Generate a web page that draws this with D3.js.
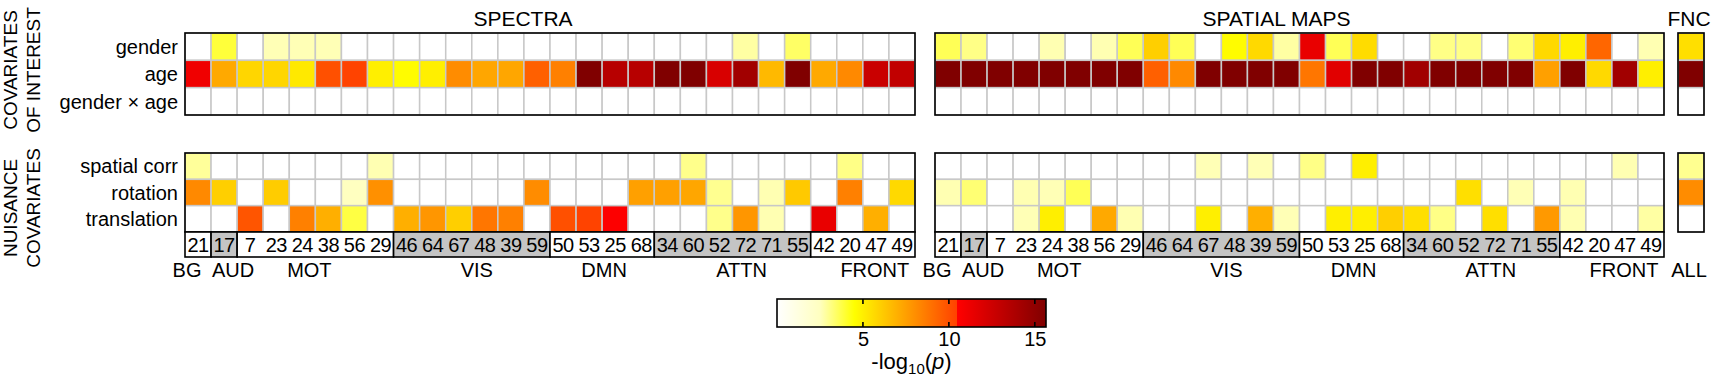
<!DOCTYPE html>
<html>
<head>
<meta charset="utf-8">
<script src="https://cdn.jsdelivr.net/npm/d3@7"></script>
<style>
body { margin: 0; background: #fff; }
text { font-family: "Liberation Sans", Arial, sans-serif; fill: #000; }
</style>
</head>
<body>
<div id="chart"></div>
<script>
const interestRows = ["gender", "age", "gender \u00d7 age"];
const nuisanceRows = ["spatial corr", "rotation", "translation"];
const components = [21, 17, 7, 23, 24, 38, 56, 29, 46, 64, 67, 48, 39, 59, 50, 53, 25, 68, 34, 60, 52, 72, 71, 55, 42, 20, 47, 49];
const groups = ["BG", "AUD", "MOT", "VIS", "DMN", "ATTN", "FRONT"];
const groupSizes = [1, 1, 6, 6, 4, 6, 4];
const cbarTicks = [5, 10, 15];

// -log10(p) per component, 0 = not significant, 16 = beyond the colour scale
const spectraGender = [0, 3.9, 0, 2.6, 2.6, 2.6, 0, 0, 0, 0, 0, 0, 0, 0, 0, 0, 0, 0, 0, 0, 0, 2.8, 0, 3.45, 0, 0, 0, 0];
const spectraAge = [11.1, 7.2, 5.8, 5.8, 5.2, 10.0, 10.4, 5.0, 4.6, 5.0, 8.1, 7.3, 7.3, 9.5, 8.5, 16, 13.4, 13.4, 16, 16, 12.1, 14.3, 6.7, 16, 7.2, 8.2, 12.7, 13.0];
const spectraGxA = [0, 0, 0, 0, 0, 0, 0, 0, 0, 0, 0, 0, 0, 0, 0, 0, 0, 0, 0, 0, 0, 0, 0, 0, 0, 0, 0, 0];
const spectraSpatialCorr = [2.9, 0, 0, 0, 0, 0, 0, 2.65, 0, 0, 0, 0, 0, 0, 0, 0, 0, 0, 0, 3.05, 0, 0, 0, 0, 0, 3.1, 0, 0];
const spectraRotation = [8.2, 6.0, 0, 6.1, 0, 0, 2.5, 8.0, 0, 0, 0, 0, 0, 8.1, 0, 0, 0, 7.5, 7.5, 7.3, 3.0, 0, 2.65, 6.2, 0, 8.5, 0, 5.7];
const spectraTranslation = [0, 0, 9.85, 0, 8.5, 7.0, 3.8, 0, 7.0, 7.8, 6.0, 8.8, 8.5, 0, 10.0, 10.4, 10.6, 0, 0, 0, 3.05, 7.8, 2.65, 0, 11.4, 0, 7.0, 0];

const mapsGender = [3.6, 3.1, 0, 0, 2.65, 0, 2.65, 3.6, 6.0, 3.6, 0, 4.6, 5.7, 2.8, 11.4, 3.6, 5.6, 0, 0, 3.1, 3.1, 0, 3.3, 5.7, 5.0, 9.3, 0, 2.65];
const mapsAge = [16, 16, 16, 16, 16, 16, 16, 16, 9.5, 8.2, 16, 16, 16, 16, 8.8, 11.7, 16, 16, 14.3, 16, 16, 16, 16, 7.5, 16, 5.7, 14.3, 5.0];
const mapsGxA = [0, 0, 0, 0, 0, 0, 0, 0, 0, 0, 0, 0, 0, 0, 0, 0, 0, 0, 0, 0, 0, 0, 0, 0, 0, 0, 0, 0];
const mapsSpatialCorr = [0, 0, 0, 0, 0, 0, 0, 0, 0, 0, 2.6, 0, 2.6, 0, 3.1, 0, 5.0, 0, 0, 0, 0, 0, 0, 0, 0, 0, 2.65, 0];
const mapsRotation = [2.65, 3.3, 0, 2.65, 2.6, 3.6, 0, 0, 0, 0, 0, 0, 0, 0, 0, 0, 0, 0, 0, 0, 5.5, 0, 2.6, 0, 2.65, 0, 0, 0];
const mapsTranslation = [0, 0, 0, 2.6, 5.0, 0, 7.2, 2.65, 0, 0, 5.0, 0, 7.0, 2.6, 0, 5.0, 5.0, 6.0, 5.5, 3.1, 0, 5.5, 0, 7.7, 2.65, 0, 0, 2.8];

const fncInterest = [5.5, 16, 0];
const allNuisance = [3.0, 8.1, 0];

// colour map: white -> yellow -> orange, jump to red -> dark red
const cStops = [0, 2.5, 4.5, 10.5, 10.5001, 15.65];
const cColors = ["#ffffff", "#ffffc0", "#ffff00", "#ff4000", "#ff0000", "#800000"];
const color = d3.scaleLinear().domain(cStops).range(cColors).clamp(true);

const W = 1713, H = 382;
const svg = d3.select("#chart").append("svg").attr("width", W).attr("height", H);

const spectraX = d3.scaleBand().domain(d3.range(components.length)).range([185, 915]);
const mapsX = d3.scaleBand().domain(d3.range(components.length)).range([935, 1664]);
const singleX = d3.scaleBand().domain([0]).range([1678, 1704]);
const topY = d3.scaleBand().domain(interestRows).range([33, 115]);
const botY = d3.scaleBand().domain(nuisanceRows).range([153, 232]);
const labelTop = 232, labelBottom = 257;

function drawBlock(xs, ys, rows, series) {
  const g = svg.append("g");
  series.forEach((vals, r) => {
    g.selectAll(null).data(vals).enter().append("rect")
      .attr("x", (d, i) => xs(i))
      .attr("y", ys(rows[r]))
      .attr("width", xs.bandwidth())
      .attr("height", ys.bandwidth())
      .attr("fill", d => d > 0 ? color(d) : "#fff")
      .attr("stroke", "#c8c8c8")
      .attr("stroke-width", 1.5);
  });
  g.append("rect")
    .attr("x", xs.range()[0]).attr("y", ys.range()[0])
    .attr("width", xs.range()[1] - xs.range()[0])
    .attr("height", ys.range()[1] - ys.range()[0])
    .attr("fill", "none").attr("stroke", "#000").attr("stroke-width", 1.6);
}

drawBlock(spectraX, topY, interestRows, [spectraGender, spectraAge, spectraGxA]);
drawBlock(spectraX, botY, nuisanceRows, [spectraSpatialCorr, spectraRotation, spectraTranslation]);
drawBlock(mapsX, topY, interestRows, [mapsGender, mapsAge, mapsGxA]);
drawBlock(mapsX, botY, nuisanceRows, [mapsSpatialCorr, mapsRotation, mapsTranslation]);
drawBlock(singleX, topY, interestRows, fncInterest.map(v => [v]));
drawBlock(singleX, botY, nuisanceRows, allNuisance.map(v => [v]));

// row labels
[[topY, interestRows], [botY, nuisanceRows]].forEach(([ys, rows]) => {
  svg.selectAll(null).data(rows).enter().append("text")
    .attr("x", 178)
    .attr("y", d => ys(d) + ys.bandwidth() / 2)
    .attr("dy", "0.36em")
    .attr("text-anchor", "end")
    .style("font-size", "20px")
    .text(d => d);
});

// rotated side titles
[["COVARIATES", "OF INTEREST", 70], ["NUISANCE", "COVARIATES", 208]].forEach(([a, b, cy]) => {
  [a, b].forEach((t, k) => {
    svg.append("text")
      .attr("transform", "rotate(-90)")
      .attr("x", -cy).attr("y", 17 + k * 23)
      .attr("text-anchor", "middle")
      .style("font-size", "19px")
      .text(t);
  });
});

// panel titles
svg.append("text").attr("x", (185 + 915) / 2 - 27).attr("y", 26).attr("text-anchor", "middle").style("font-size", "21px").text("SPECTRA");
svg.append("text").attr("x", (935 + 1664) / 2 - 23).attr("y", 26).attr("text-anchor", "middle").style("font-size", "21px").text("SPATIAL MAPS");
svg.append("text").attr("x", 1689).attr("y", 26).attr("text-anchor", "middle").style("font-size", "21px").text("FNC");

// component numbers and group boxes
const groupStart = groupSizes.map((s, i) => d3.sum(groupSizes.slice(0, i)));
const groupShift = [-11, 9, -6, 5, 2, 9, 12];
[spectraX, mapsX].forEach(xs => {
  const g = svg.append("g");
  g.selectAll(null).data(groups).enter().append("rect")
    .attr("x", (d, i) => xs(groupStart[i]))
    .attr("y", labelTop)
    .attr("width", (d, i) => xs.step() * groupSizes[i])
    .attr("height", labelBottom - labelTop)
    .attr("fill", (d, i) => i % 2 ? "#c4c4c4" : "#fff")
    .attr("stroke", "#000").attr("stroke-width", 1.6);
  g.selectAll(null).data(components).enter().append("text")
    .attr("x", (d, i) => xs(i) + xs.bandwidth() / 2)
    .attr("y", 252)
    .attr("text-anchor", "middle")
    .style("font-size", "20px")
    .style("letter-spacing", "-0.5px")
    .text(d => d);
  g.selectAll(null).data(groups).enter().append("text")
    .attr("x", (d, i) => xs(groupStart[i]) + xs.step() * groupSizes[i] / 2 + groupShift[i])
    .attr("y", 277)
    .attr("text-anchor", "middle")
    .style("font-size", "20px")
    .text(d => d);
});
svg.append("text").attr("x", 1689).attr("y", 277).attr("text-anchor", "middle").style("font-size", "20px").text("ALL");

// colour bar
const cbX = d3.scaleLinear().domain([0, 15.65]).range([777, 1046]);
const cbTop = 299, cbBottom = 327;
const grad = svg.append("defs").append("linearGradient").attr("id", "cmap");
grad.selectAll("stop").data(cStops).enter().append("stop")
  .attr("offset", d => d / 15.65)
  .attr("stop-color", (d, i) => cColors[i]);
svg.append("rect")
  .attr("x", cbX(0)).attr("y", cbTop)
  .attr("width", cbX(15.65) - cbX(0)).attr("height", cbBottom - cbTop)
  .attr("fill", "url(#cmap)").attr("stroke", "#000").attr("stroke-width", 1.6);
svg.selectAll(null).data(cbarTicks).enter().append("path")
  .attr("d", d => `M${cbX(d)},${cbTop}v5M${cbX(d)},${cbBottom}v-5`)
  .attr("stroke", "#000").attr("stroke-width", 1.6);
const cbAxis = svg.append("g").attr("transform", `translate(0,${cbBottom})`)
  .call(d3.axisBottom(cbX).tickValues(cbarTicks).tickSize(0).tickPadding(5));
cbAxis.select(".domain").remove();
cbAxis.selectAll("text").style("font-size", "20px").attr("font-family", null);

const cbLabel = svg.append("text").attr("x", (cbX(0) + cbX(15.65)) / 2).attr("y", 369)
  .attr("text-anchor", "middle").style("font-size", "22px");
cbLabel.append("tspan").text("-log");
cbLabel.append("tspan").attr("dy", 5).style("font-size", "15px").text("10");
cbLabel.append("tspan").attr("dy", -5).text("(");
cbLabel.append("tspan").style("font-style", "italic").text("p");
cbLabel.append("tspan").text(")");
</script>
</body>
</html>
